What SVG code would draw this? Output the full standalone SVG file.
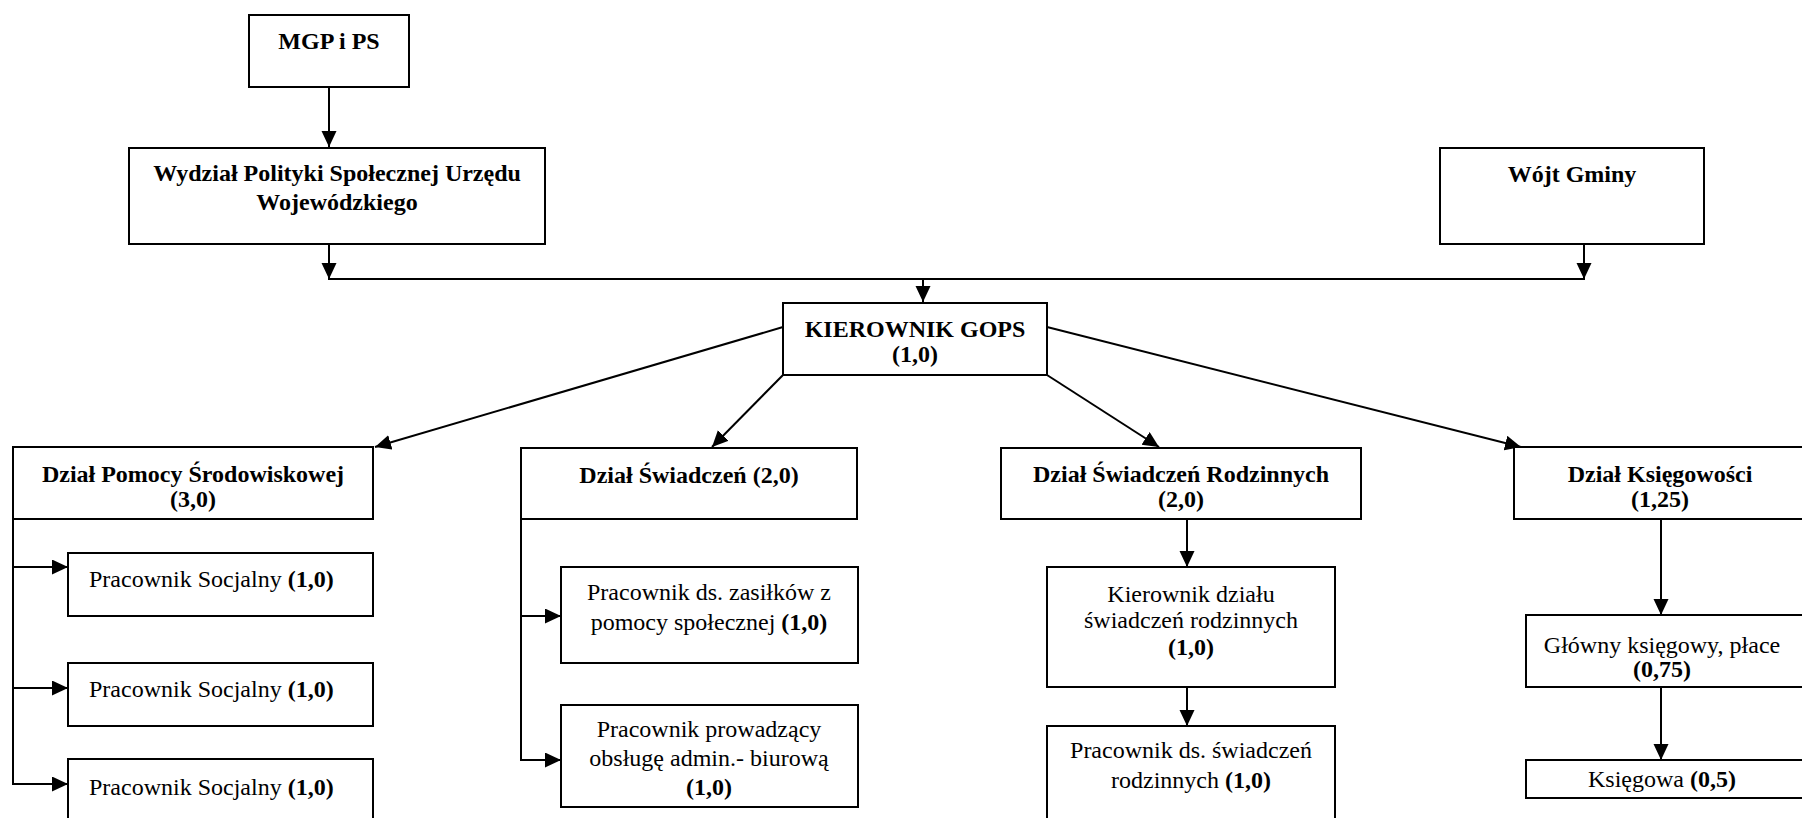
<svg xmlns="http://www.w3.org/2000/svg" width="1802" height="818" viewBox="0 0 1802 818">
<style>
.box{fill:#fff;stroke:#000;stroke-width:2}
.ln{fill:none;stroke:#000;stroke-width:2}
text{font-family:"Liberation Serif","Times New Roman",serif;font-size:24px;fill:#000}
.b{font-weight:bold}
.c{text-anchor:middle}
</style>
<defs>
<marker id="ah" markerUnits="userSpaceOnUse" markerWidth="16" markerHeight="16" refX="16" refY="7.5" orient="auto">
<path d="M0,0 L16,7.5 L0,15 z" fill="#000"/>
</marker>
</defs>
<rect width="1802" height="818" fill="#fff"/>
<g id="connectors">
<line class="ln" x1="329" y1="87" x2="329" y2="147" marker-end="url(#ah)"/>
<line class="ln" x1="329" y1="244" x2="329" y2="279" marker-end="url(#ah)"/>
<line class="ln" x1="1584" y1="244" x2="1584" y2="279" marker-end="url(#ah)"/>
<line class="ln" x1="328" y1="279" x2="1585" y2="279"/>
<line class="ln" x1="923" y1="279" x2="923" y2="302" marker-end="url(#ah)"/>
<line class="ln" x1="783" y1="327" x2="375" y2="447" marker-end="url(#ah)"/>
<line class="ln" x1="783" y1="375" x2="712" y2="447" marker-end="url(#ah)"/>
<line class="ln" x1="1047" y1="375" x2="1159" y2="447" marker-end="url(#ah)"/>
<line class="ln" x1="1047" y1="327" x2="1521" y2="447" marker-end="url(#ah)"/>
<polyline class="ln" points="13,519 13,784"/>
<line class="ln" x1="12" y1="567" x2="68" y2="567" marker-end="url(#ah)"/>
<line class="ln" x1="12" y1="688" x2="68" y2="688" marker-end="url(#ah)"/>
<line class="ln" x1="12" y1="784" x2="68" y2="784" marker-end="url(#ah)"/>
<polyline class="ln" points="521,519 521,760"/>
<line class="ln" x1="520" y1="616" x2="561" y2="616" marker-end="url(#ah)"/>
<line class="ln" x1="520" y1="760" x2="561" y2="760" marker-end="url(#ah)"/>
<line class="ln" x1="1187" y1="519" x2="1187" y2="567" marker-end="url(#ah)"/>
<line class="ln" x1="1187" y1="687" x2="1187" y2="726" marker-end="url(#ah)"/>
<line class="ln" x1="1661" y1="519" x2="1661" y2="615" marker-end="url(#ah)"/>
<line class="ln" x1="1661" y1="687" x2="1661" y2="760" marker-end="url(#ah)"/>
</g>
<g id="mgp"><rect class="box" x="249" y="15" width="160" height="72"/><text class="b c" x="329" y="49">MGP i PS</text></g>
<g id="wydzial"><rect class="box" x="129" y="148" width="416" height="96"/><text class="b c" x="337" y="181">Wydział Polityki Społecznej Urzędu</text><text class="b c" x="337" y="210">Wojewódzkiego</text></g>
<g id="wojt"><rect class="box" x="1440" y="148" width="264" height="96"/><text class="b c" x="1572" y="182">Wójt Gminy</text></g>
<g id="kierownik"><rect class="box" x="783" y="303" width="264" height="72"/><text class="b c" x="915" y="337">KIEROWNIK GOPS</text><text class="b c" x="915" y="362">(1,0)</text></g>
<g id="dzial-pomocy"><rect class="box" x="13" y="447" width="360" height="72"/><text class="b c" x="193" y="482">Dział Pomocy Środowiskowej</text><text class="b c" x="193" y="507">(3,0)</text></g>
<g id="dzial-swiadczen"><rect class="box" x="521" y="448" width="336" height="71"/><text class="b c" x="689" y="483">Dział Świadczeń (2,0)</text></g>
<g id="dzial-rodzinnych"><rect class="box" x="1001" y="448" width="360" height="71"/><text class="b c" x="1181" y="482">Dział Świadczeń Rodzinnych</text><text class="b c" x="1181" y="507">(2,0)</text></g>
<g id="dzial-ksiegowosci"><rect class="box" x="1514" y="447" width="292" height="72"/><text class="b c" x="1660" y="482">Dział Księgowości</text><text class="b c" x="1660" y="507">(1,25)</text></g>
<g id="ps1"><rect class="box" x="68" y="553" width="305" height="63"/><text x="89" y="587">Pracownik Socjalny <tspan class="b">(1,0)</tspan></text></g>
<g id="ps2"><rect class="box" x="68" y="663" width="305" height="63"/><text x="89" y="697">Pracownik Socjalny <tspan class="b">(1,0)</tspan></text></g>
<g id="ps3"><rect class="box" x="68" y="759" width="305" height="80"/><text x="89" y="795">Pracownik Socjalny <tspan class="b">(1,0)</tspan></text></g>
<g id="zasilki"><rect class="box" x="561" y="567" width="297" height="96"/><text class="c" x="709" y="600">Pracownik ds. zasiłków z</text><text class="c" x="709" y="630">pomocy społecznej <tspan class="b">(1,0)</tspan></text></g>
<g id="admin"><rect class="box" x="561" y="705" width="297" height="102"/><text class="c" x="709" y="737">Pracownik prowadzący</text><text class="c" x="709" y="766">obsługę admin.- biurową</text><text class="b c" x="709" y="795">(1,0)</text></g>
<g id="kier-dzialu"><rect class="box" x="1047" y="567" width="288" height="120"/><text class="c" x="1191" y="602">Kierownik działu</text><text class="c" x="1191" y="628">świadczeń rodzinnych</text><text class="b c" x="1191" y="655">(1,0)</text></g>
<g id="prac-rodzinnych"><rect class="box" x="1047" y="726" width="288" height="110"/><text class="c" x="1191" y="758">Pracownik ds. świadczeń</text><text class="c" x="1191" y="788">rodzinnych <tspan class="b">(1,0)</tspan></text></g>
<g id="glowny"><rect class="box" x="1526" y="615" width="280" height="72"/><text class="c" x="1662" y="653">Główny księgowy, płace</text><text class="b c" x="1662" y="677">(0,75)</text></g>
<g id="ksiegowa"><rect class="box" x="1526" y="760" width="280" height="38"/><text class="c" x="1662" y="787">Księgowa <tspan class="b">(0,5)</tspan></text></g>
</svg>
